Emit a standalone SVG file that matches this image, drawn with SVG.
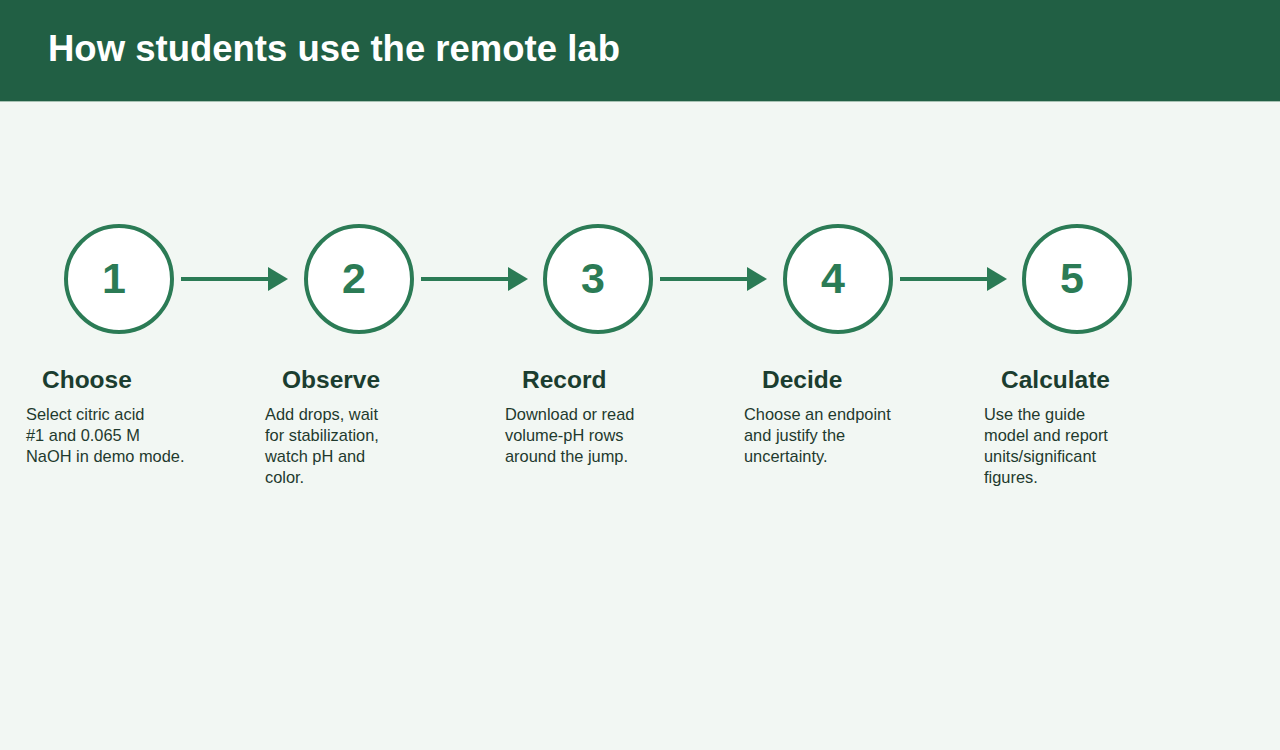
<svg xmlns="http://www.w3.org/2000/svg" width="1280" height="750" viewBox="0 0 1280 750">
  <defs>
    <style>
      .bg { fill: #f2f7f3; }
      .band { fill: #215f44; }
      .title { font-family: "Liberation Sans", Arial, sans-serif; font-weight: bold; font-size: 36.5px; fill: #ffffff; }
      .ring { fill: #ffffff; stroke: #2b7b55; stroke-width: 4; }
      .num { font-family: "Liberation Sans", Arial, sans-serif; font-weight: bold; font-size: 43px; fill: #2b7b55; text-anchor: middle; }
      .head { font-family: "Liberation Sans", Arial, sans-serif; font-weight: bold; font-size: 24.5px; fill: #1b3d2f; }
      .body { font-family: "Liberation Sans", Arial, sans-serif; font-size: 16.4px; fill: #1f3a2e; }
      .link { stroke: #2b7b55; stroke-width: 4; fill: none; marker-end: url(#tip); }
    </style>
    <marker id="tip" viewBox="0 0 10 12" refX="0" refY="6" markerWidth="5" markerHeight="6" markerUnits="strokeWidth" orient="auto">
      <path d="M0,0 L10,6 L0,12 Z" fill="#2b7b55"/>
    </marker>
  </defs>

  <rect class="bg" x="0" y="0" width="1280" height="750"/>
  <rect class="band" x="0" y="0" width="1280" height="101"/>
  <rect x="0" y="101" width="1280" height="1" fill="#5b8d74" opacity="0.5"/>
  <text class="title" x="48" y="61">How students use the remote lab</text>

  <g id="connectors">
    <line class="link" x1="181" y1="279" x2="268" y2="279"/>
    <line class="link" x1="421" y1="279" x2="508" y2="279"/>
    <line class="link" x1="660" y1="279" x2="747" y2="279"/>
    <line class="link" x1="900" y1="279" x2="987" y2="279"/>
  </g>

  <g id="step-1">
    <circle class="ring" cx="119" cy="279" r="53"/>
    <text class="num" x="114" y="293">1</text>
    <text class="head" x="42" y="388">Choose</text>
    <text class="body" x="26" y="420">Select citric acid</text>
    <text class="body" x="26" y="441">#1 and 0.065 M</text>
    <text class="body" x="26" y="462">NaOH in demo mode.</text>
  </g>

  <g id="step-2">
    <circle class="ring" cx="359" cy="279" r="53"/>
    <text class="num" x="354" y="293">2</text>
    <text class="head" x="282" y="388">Observe</text>
    <text class="body" x="265" y="420">Add drops, wait</text>
    <text class="body" x="265" y="441">for stabilization,</text>
    <text class="body" x="265" y="462">watch pH and</text>
    <text class="body" x="265" y="483">color.</text>
  </g>

  <g id="step-3">
    <circle class="ring" cx="598" cy="279" r="53"/>
    <text class="num" x="593" y="293">3</text>
    <text class="head" x="522" y="388">Record</text>
    <text class="body" x="505" y="420">Download or read</text>
    <text class="body" x="505" y="441">volume-pH rows</text>
    <text class="body" x="505" y="462">around the jump.</text>
  </g>

  <g id="step-4">
    <circle class="ring" cx="838" cy="279" r="53"/>
    <text class="num" x="833" y="293">4</text>
    <text class="head" x="762" y="388">Decide</text>
    <text class="body" x="744" y="420">Choose an endpoint</text>
    <text class="body" x="744" y="441">and justify the</text>
    <text class="body" x="744" y="462">uncertainty.</text>
  </g>

  <g id="step-5">
    <circle class="ring" cx="1077" cy="279" r="53"/>
    <text class="num" x="1072" y="293">5</text>
    <text class="head" x="1001" y="388">Calculate</text>
    <text class="body" x="984" y="420">Use the guide</text>
    <text class="body" x="984" y="441">model and report</text>
    <text class="body" x="984" y="462">units/significant</text>
    <text class="body" x="984" y="483">figures.</text>
  </g>
</svg>
